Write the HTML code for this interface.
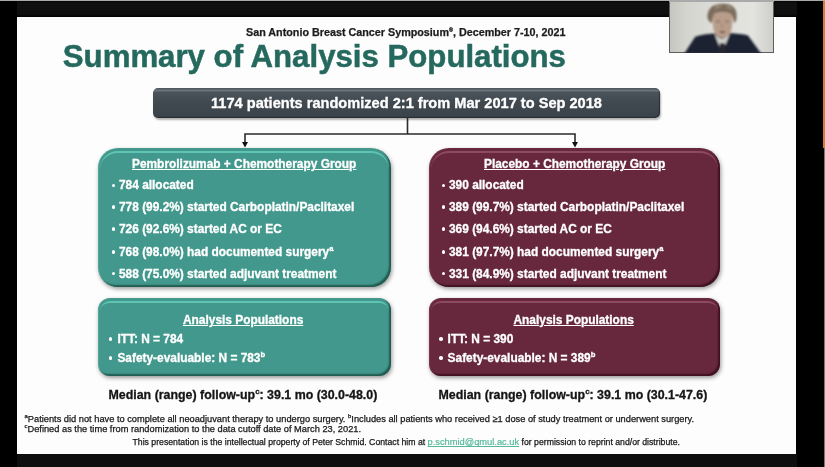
<!DOCTYPE html>
<html><head><meta charset="utf-8">
<style>
*{margin:0;padding:0;box-sizing:border-box}
html,body{width:825px;height:467px;overflow:hidden;background:#000}
body{position:relative;font-family:"Liberation Sans",sans-serif;font-weight:bold}
.abs{position:absolute}
#wrap{position:absolute;left:0;top:0;width:825px;height:467px;filter:blur(0.45px)}
.t{position:absolute;white-space:nowrap;line-height:1;transform-origin:0 0}
.u{text-decoration:underline;text-underline-offset:1px;text-decoration-thickness:1px}
sup{font-size:0.64em;vertical-align:baseline;position:relative;top:-0.62em;line-height:0}

.dot{border-radius:50%}
#topline{left:0;top:0;width:825px;height:1.4px;background:#aaa}
#topbar{left:16.5px;top:1.4px;width:780px;height:15.2px;background:linear-gradient(#030303 0,#0f0f0f 1.6px,#0f0f0f 13.2px,#040404 15.2px)}
#botbar{left:16.5px;top:453.8px;width:780px;height:13px;background:#0e0e0e}
#orange{left:823px;top:1px;width:2px;height:147px;background:#d9793a}
#greyr{left:823.8px;top:148px;width:1.2px;height:319px;background:#777}
#slide{left:16.5px;top:16.6px;width:779.7px;height:437.2px;background:#fdfdfd}
#bar{left:153px;top:88px;width:507px;height:29.5px;border-radius:5px;
 background:linear-gradient(#4a525a 0,#5c646b 1.5px,#6c737a 2.5px,#4a525a 4.5px,#414950 50%,#3b434a 100%);box-shadow:1px 2px 2px rgba(0,0,0,.3), inset -1px -1px 1px rgba(0,0,0,.35)}
.box{position:absolute}
.big{border-radius:20px}
.small{border-radius:12px}
.teal{background:#42988c;box-shadow:1px 2px 4px rgba(0,0,0,.4), inset -2px -2px 1.5px rgba(10,50,40,.6), inset 1px 0 1px rgba(120,220,200,.25)}
.maroon{background:#67283e;box-shadow:1px 2px 4px rgba(0,0,0,.4), inset -2px -2px 1.5px rgba(40,0,15,.6), inset 1px 0 1px rgba(200,120,150,.2)}
.box::before{content:"";position:absolute;left:2px;right:2px;top:2.5px;height:40px;border-top:2.5px solid;filter:blur(0.5px)}
.big::before{border-radius:18px 18px 0 0/18px 18px 0 0}
.small::before{border-radius:10px 10px 0 0/10px 10px 0 0;height:20px}
.teal::before{border-color:#60c4b3}
.maroon::before{border-color:#8e4a63}

</style></head><body>
<div id="wrap">
<div class="abs" id="topline"></div>
<div class="abs" id="topbar"></div>
<div class="abs" id="orange"></div>
<div class="abs" id="greyr"></div>
<div class="abs" id="slide"></div>
<div class="abs" id="botbar"></div>
<div class="t " style="left:246px;top:26.98px;font-size:10.77px;color:#1c1c1c;font-weight:bold;-webkit-text-stroke:0.25px #1c1c1c;">San Antonio Breast Cancer Symposium<sup style="font-size:0.5em;top:-0.75em">®</sup>, December 7-10, 2021</div>
<div class="t " style="left:62.8px;top:40.99px;font-size:31.2px;color:#25695e;font-weight:bold;-webkit-text-stroke:0.5px #25695e;">Summary of Analysis Populations</div>
<div class="abs" id="bar"></div>
<div class="t " style="left:211px;top:95.64px;font-size:14.6px;color:#fff;font-weight:bold;-webkit-text-stroke:0.3px #fff;">1174 patients randomized 2:1 from Mar 2017 to Sep 2018</div>

<svg class="abs" style="left:230px;top:110px" width="360" height="40" viewBox="0 0 360 40">
<path d="M177.5 7 V24.2 M15 24 H345 M15 23.3 V33 M345 23.3 V33" stroke="#2b2b2b" stroke-width="1.6" fill="none"/>
<path d="M12 32 L18 32 L15 37.5Z M342 32 L348 32 L345 37.5Z" fill="#111"/>
</svg>

<svg class="abs" style="left:668.5px;top:0.5px" width="105" height="52" viewBox="0 0 105 52">
<defs>
<linearGradient id="wbg" x1="0" x2="1" y1="0" y2="0">
<stop offset="0" stop-color="#c4c6bf"/><stop offset="0.15" stop-color="#d3d4ce"/><stop offset="0.5" stop-color="#dfe0db"/><stop offset="0.8" stop-color="#e3e4e0"/><stop offset="1" stop-color="#cdcfca"/>
</linearGradient>
<filter id="wb" x="-20%" y="-20%" width="140%" height="140%"><feGaussianBlur stdDeviation="0.8"/></filter>
</defs>
<rect x="0" y="0" width="105" height="52" fill="#5e5e5e"/>
<rect x="1" y="1" width="103" height="50" fill="url(#wbg)"/>
<rect x="0" y="0" width="105" height="1" fill="#a9a9a9"/>
<g filter="url(#wb)">
<path d="M15 53 L26 36 C30 34 37 33 45 32.5 L61 32 C68 32.5 74 33 79 34.5 L92.5 53Z" fill="#1d2331"/>
<path d="M45.5 33 L53 52 L61 32.5 L57 36 L53 38 L49 36Z" fill="#cfcfcb"/>
<path d="M51 42 L55.5 42 L57 52 L49.5 52Z" fill="#26272d"/>
<path d="M43.5 19 C43.5 11 47 8 53.5 8 C60 8 63.5 11 63.5 19 L62.8 27 C62 33 58 37 53.5 37 C49 37 45 33 44.3 27Z" fill="#b99d8b"/>
<path d="M38.5 17 C38 12 40 8 43 5.5 C46 3.5 50 2.5 54 2.7 C58 2.5 62 3.5 64.5 6 C67.5 9 68 13 67.5 18 C67 20 66 21.5 65 22 C64.5 18 63.5 14 61 12 C57 10.5 50 10.5 46 12 C44 14 43.3 18 43 22 C41 21.5 39.5 20 38.5 17Z" fill="#7c6c5c"/>
<path d="M46 5 C49 3.5 52 4 54 6 C50 6 48 7 46 9Z M58 4.5 C61 5 63 6.5 64 9 C61 8 59 7 57 7Z" fill="#9a8a78"/>
<ellipse cx="49" cy="20.5" rx="2.4" ry="1.1" fill="#8d7466"/>
<ellipse cx="58" cy="20.5" rx="2.4" ry="1.1" fill="#8d7466"/>
<path d="M52.5 21 L51.5 27 L54.5 27Z" fill="#a88c7c"/>
<ellipse cx="53.5" cy="31" rx="3" ry="1.2" fill="#7e5f58"/>
</g>
</svg>
<div class="box teal big" style="left:98px;top:148px;width:293px;height:139px"></div>
<div class="box maroon big" style="left:429px;top:148px;width:291px;height:139px"></div>
<div class="box teal small" style="left:98px;top:298px;width:293px;height:78px"></div>
<div class="box maroon small" style="left:429px;top:298px;width:291px;height:78px"></div>
<div class="t " style="left:132px;top:159.23px;font-size:11.9px;color:#fff;font-weight:bold;-webkit-text-stroke:0.3px #fff;"><span class="u">Pembrolizumab + Chemotherapy Group</span></div>
<div class="t " style="left:484px;top:159.23px;font-size:11.9px;color:#fff;font-weight:bold;-webkit-text-stroke:0.3px #fff;"><span class="u">Placebo + Chemotherapy Group</span></div>
<div class="abs dot" style="left:111.95px;top:183.55px;width:3.5px;height:3.5px;background:#fff"></div>
<div class="abs dot" style="left:441.95px;top:183.55px;width:3.5px;height:3.5px;background:#fff"></div>
<div class="t " style="left:119px;top:180.43px;font-size:11.9px;color:#fff;font-weight:bold;-webkit-text-stroke:0.3px #fff;">784 allocated</div>
<div class="t " style="left:449px;top:180.43px;font-size:11.9px;color:#fff;font-weight:bold;-webkit-text-stroke:0.3px #fff;">390 allocated</div>
<div class="abs dot" style="left:111.95px;top:205.30px;width:3.5px;height:3.5px;background:#fff"></div>
<div class="abs dot" style="left:441.95px;top:205.30px;width:3.5px;height:3.5px;background:#fff"></div>
<div class="t " style="left:119px;top:202.18px;font-size:11.9px;color:#fff;font-weight:bold;-webkit-text-stroke:0.3px #fff;">778 (99.2%) started Carboplatin/Paclitaxel</div>
<div class="t " style="left:449px;top:202.18px;font-size:11.9px;color:#fff;font-weight:bold;-webkit-text-stroke:0.3px #fff;">389 (99.7%) started Carboplatin/Paclitaxel</div>
<div class="abs dot" style="left:111.95px;top:227.05px;width:3.5px;height:3.5px;background:#fff"></div>
<div class="abs dot" style="left:441.95px;top:227.05px;width:3.5px;height:3.5px;background:#fff"></div>
<div class="t " style="left:119px;top:223.93px;font-size:11.9px;color:#fff;font-weight:bold;-webkit-text-stroke:0.3px #fff;">726 (92.6%) started AC or EC</div>
<div class="t " style="left:449px;top:223.93px;font-size:11.9px;color:#fff;font-weight:bold;-webkit-text-stroke:0.3px #fff;">369 (94.6%) started AC or EC</div>
<div class="abs dot" style="left:111.95px;top:250.00px;width:3.5px;height:3.5px;background:#fff"></div>
<div class="abs dot" style="left:441.95px;top:250.00px;width:3.5px;height:3.5px;background:#fff"></div>
<div class="t " style="left:119px;top:246.88px;font-size:11.9px;color:#fff;font-weight:bold;-webkit-text-stroke:0.3px #fff;">768 (98.0%) had documented surgery<sup>a</sup></div>
<div class="t " style="left:449px;top:246.88px;font-size:11.9px;color:#fff;font-weight:bold;-webkit-text-stroke:0.3px #fff;">381 (97.7%) had documented surgery<sup>a</sup></div>
<div class="abs dot" style="left:111.95px;top:271.75px;width:3.5px;height:3.5px;background:#fff"></div>
<div class="abs dot" style="left:441.95px;top:271.75px;width:3.5px;height:3.5px;background:#fff"></div>
<div class="t " style="left:119px;top:268.63px;font-size:11.9px;color:#fff;font-weight:bold;-webkit-text-stroke:0.3px #fff;">588 (75.0%) started adjuvant treatment</div>
<div class="t " style="left:449px;top:268.63px;font-size:11.9px;color:#fff;font-weight:bold;-webkit-text-stroke:0.3px #fff;">331 (84.9%) started adjuvant treatment</div>
<div class="t " style="left:183px;top:315.13px;font-size:11.9px;color:#fff;font-weight:bold;-webkit-text-stroke:0.3px #fff;"><span class="u">Analysis Populations</span></div>
<div class="t " style="left:513.5px;top:315.13px;font-size:11.9px;color:#fff;font-weight:bold;-webkit-text-stroke:0.3px #fff;"><span class="u">Analysis Populations</span></div>
<div class="abs dot" style="left:108.85px;top:337.05px;width:3.5px;height:3.5px;background:#fff"></div>
<div class="t " style="left:117.4px;top:333.93px;font-size:11.9px;color:#fff;font-weight:bold;-webkit-text-stroke:0.3px #fff;">ITT: N = 784</div>
<div class="abs dot" style="left:439.15px;top:337.05px;width:3.5px;height:3.5px;background:#fff"></div>
<div class="t " style="left:447.6px;top:333.93px;font-size:11.9px;color:#fff;font-weight:bold;-webkit-text-stroke:0.3px #fff;">ITT: N = 390</div>
<div class="abs dot" style="left:108.85px;top:356.25px;width:3.5px;height:3.5px;background:#fff"></div>
<div class="t " style="left:117.4px;top:353.13px;font-size:11.9px;color:#fff;font-weight:bold;-webkit-text-stroke:0.3px #fff;">Safety-evaluable: N = 783<sup>b</sup></div>
<div class="abs dot" style="left:439.15px;top:356.25px;width:3.5px;height:3.5px;background:#fff"></div>
<div class="t " style="left:447.6px;top:353.13px;font-size:11.9px;color:#fff;font-weight:bold;-webkit-text-stroke:0.3px #fff;">Safety-evaluable: N = 389<sup>b</sup></div>
<div class="t " style="left:108.5px;top:389.00px;font-size:12.4px;color:#151515;font-weight:bold;-webkit-text-stroke:0.3px #151515;">Median (range) follow-up<sup>c</sup>: 39.1 mo (30.0-48.0)</div>
<div class="t " style="left:438.5px;top:389.00px;font-size:12.4px;color:#151515;font-weight:bold;-webkit-text-stroke:0.3px #151515;">Median (range) follow-up<sup>c</sup>: 39.1 mo (30.1-47.6)</div>
<div class="t " style="left:24.5px;top:415.04px;font-size:9.28px;color:#222;font-weight:normal;-webkit-text-stroke:0.25px #111;"><sup>a</sup>Patients did not have to complete all neoadjuvant therapy to undergo surgery. <sup>b</sup>Includes all patients who received ≥1 dose of study treatment or underwent surgery.</div>
<div class="t " style="left:24.5px;top:424.64px;font-size:9.28px;color:#222;font-weight:normal;-webkit-text-stroke:0.25px #111;"><sup>c</sup>Defined as the time from randomization to the data cutoff date of March 23, 2021.</div>
<div class="t " style="left:132.5px;top:438.44px;font-size:8.7px;color:#222;font-weight:normal;-webkit-text-stroke:0.25px #111;">This presentation is the intellectual property of Peter Schmid. Contact him at <span style="color:#55b99a;text-decoration:underline;font-size:1.07em;-webkit-text-stroke:0.2px #55b99a">p.schmid@qmul.ac.uk</span> for permission to reprint and/or distribute.</div>

</div>
</body></html>
